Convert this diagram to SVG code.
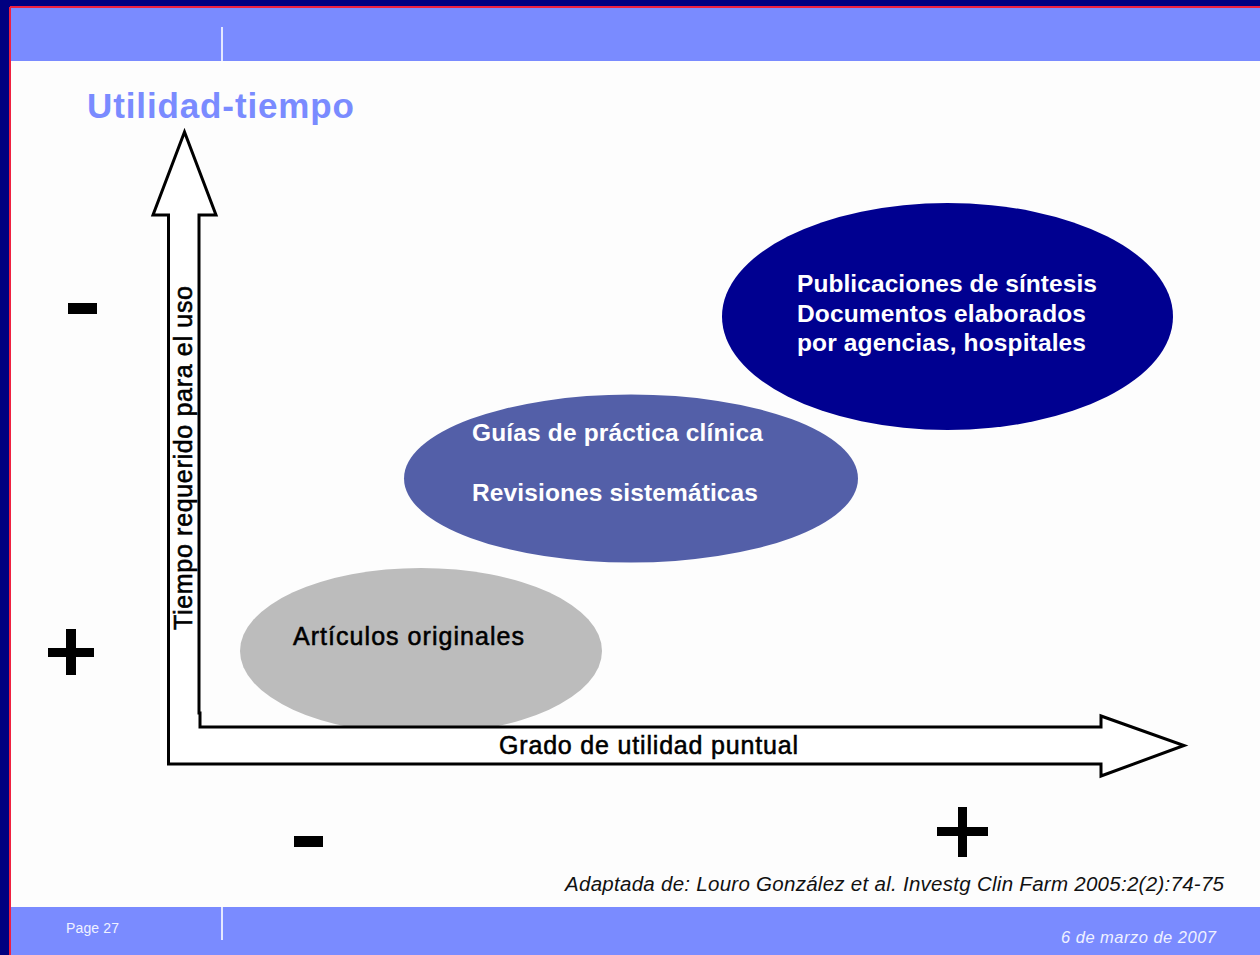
<svg xmlns="http://www.w3.org/2000/svg" width="1260" height="955" viewBox="0 0 1260 955">
<style>
text{font-family:"Liberation Sans",Arial,sans-serif}
.b{font-weight:bold;font-size:24.500px;fill:#fff}
.k{font-size:25px;fill:#000;stroke:#000;stroke-width:.55}
.arrow{fill:#fff;stroke:#000;stroke-width:3}
.sep{stroke:#e4e8ff;stroke-width:2}
</style>
<rect width="1260" height="955" fill="#000080"/>
<rect x="10" y="7" width="1250" height="948" fill="#fdfdfd"/>
<path d="M10 7H1260M10 7V955" fill="none" stroke="#f02040" stroke-width="2"/>
<rect x="11" y="8" width="1249" height="53" fill="#7a8bff"/>
<rect x="11" y="907" width="1249" height="48" fill="#7a8bff"/>
<line class="sep" x1="222" y1="27" x2="222" y2="61"/>
<line class="sep" x1="222" y1="907" x2="222" y2="940"/>
<text x="87" y="118" font-size="35" font-weight="bold" fill="#7a8bff" textLength="267">Utilidad-tiempo</text>
<g id="node-articulos">
<ellipse cx="421" cy="651" rx="181" ry="83" fill="#bcbcbc"/>
<text class="k" x="293" y="645" textLength="231">Artículos originales</text>
</g>
<g id="connectors">
<path id="axis" class="arrow" d="M168.500 764H1101V776L1184 745.500L1101 716V727H200V713H199V215H216L184.500 132L153 215H168.500Z"/>
</g>
<g id="node-guias">
<ellipse cx="631" cy="478.500" rx="227" ry="84" fill="#535fa8"/>
<text class="b" x="472" y="441" textLength="291">Guías de práctica clínica</text>
<text class="b" x="472" y="501" textLength="286">Revisiones sistemáticas</text>
</g>
<g id="node-publicaciones">
<ellipse cx="947.500" cy="316.500" rx="225.500" ry="113.500" fill="#000090"/>
<text class="b" x="797" y="292" textLength="300">Publicaciones de síntesis</text>
<text class="b" x="797" y="322" textLength="289">Documentos elaborados</text>
<text class="b" x="797" y="351" textLength="289">por agencias, hospitales</text>
</g>
<text class="k" transform="translate(192 630) rotate(-90)" textLength="344">Tiempo requerido para el uso</text>
<text class="k" x="499" y="754" textLength="299">Grado de utilidad puntual</text>
<g fill="#000">
<rect x="68" y="303" width="29" height="11"/>
<rect x="294" y="836" width="29" height="11"/>
<path d="M48 648H66V629H76V648H94V657H76V675H66V657H48Z"/>
<path d="M937 827H958V807H967V827H988V836H967V857H958V836H937Z"/>
</g>
<text x="565" y="891" font-size="20.500" font-style="italic" fill="#111" textLength="659">Adaptada de: Louro González et al. Investg Clin Farm 2005:2(2):74-75</text>
<text x="66" y="933" font-size="14" fill="#f0f2ff" textLength="53">Page 27</text>
<text x="1061" y="943" font-size="16.500" font-style="italic" fill="#f0f2ff" textLength="155">6 de marzo de 2007</text>
</svg>
